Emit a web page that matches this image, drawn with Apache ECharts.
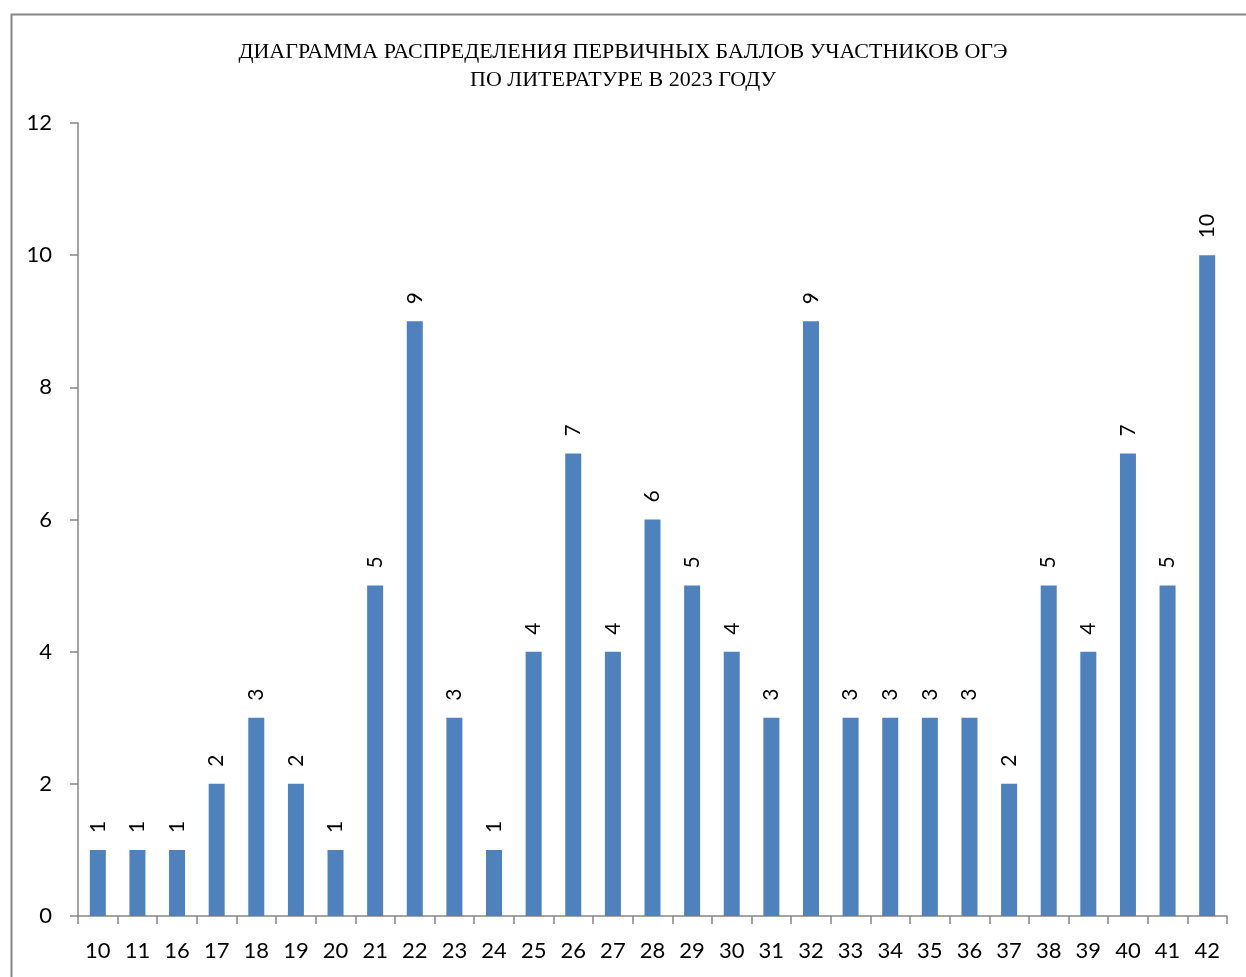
<!DOCTYPE html>
<html><head><meta charset="utf-8">
<script src="https://cdn.jsdelivr.net/npm/echarts@6/dist/echarts.min.js"></script>
<style>html,body{margin:0;padding:0;background:#fff;}#c{width:1246px;height:977px;}</style>
</head><body><div id="c"></div>
<script>
const titleLines = ['ДИАГРАММА РАСПРЕДЕЛЕНИЯ ПЕРВИЧНЫХ БАЛЛОВ УЧАСТНИКОВ ОГЭ', 'ПО ЛИТЕРАТУРЕ В 2023 ГОДУ'];
const categories = ['10','11','16','17','18','19','20','21','22','23','24','25','26','27','28','29','30','31','32','33','34','35','36','37','38','39','40','41','42'];
const values = [1,1,1,2,3,2,1,5,9,3,1,4,7,4,6,5,4,3,9,3,3,3,3,2,5,4,7,5,10];

const chart = echarts.init(document.getElementById('c'), null, {renderer:'canvas'});
chart.setOption({
  animation:false,
  graphic:[{type:'rect', left:9, top:12, shape:{width:1300, height:1000}, style:{fill:'none', stroke:'#868686', lineWidth:2}, silent:true}],
  title:{text:titleLines.join('\n'), left:'center', top:33, textStyle:{fontFamily:'Liberation Serif', fontWeight:'normal', fontSize:22, lineHeight:28, color:'#000'}},
  grid:{left:78, right:19, top:123, bottom:61, containLabel:false},
  xAxis:{type:'category', data:categories,
    axisLine:{lineStyle:{color:'#868686', width:1.5}},
    axisTick:{show:true, length:8, lineStyle:{color:'#868686', width:1.5}},
    axisLabel:{color:'#000', fontFamily:'Lato', fontSize:22, margin:24, interval:0}},
  yAxis:{type:'value', min:0, max:12, interval:2,
    axisLine:{show:true, lineStyle:{color:'#868686', width:1.5}},
    axisTick:{show:true, length:8, lineStyle:{color:'#868686', width:1.5}},
    splitLine:{show:false},
    axisLabel:{color:'#000', fontFamily:'Lato', fontSize:22, margin:26}},
  series:[{type:'bar', data:values, barWidth:16, itemStyle:{color:'#4F81BD'},
    label:{show:true, position:'top', rotate:90, align:'left', verticalAlign:'middle', distance:17, color:'#000', fontFamily:'Lato', fontSize:21}}]
});
</script></body></html>
